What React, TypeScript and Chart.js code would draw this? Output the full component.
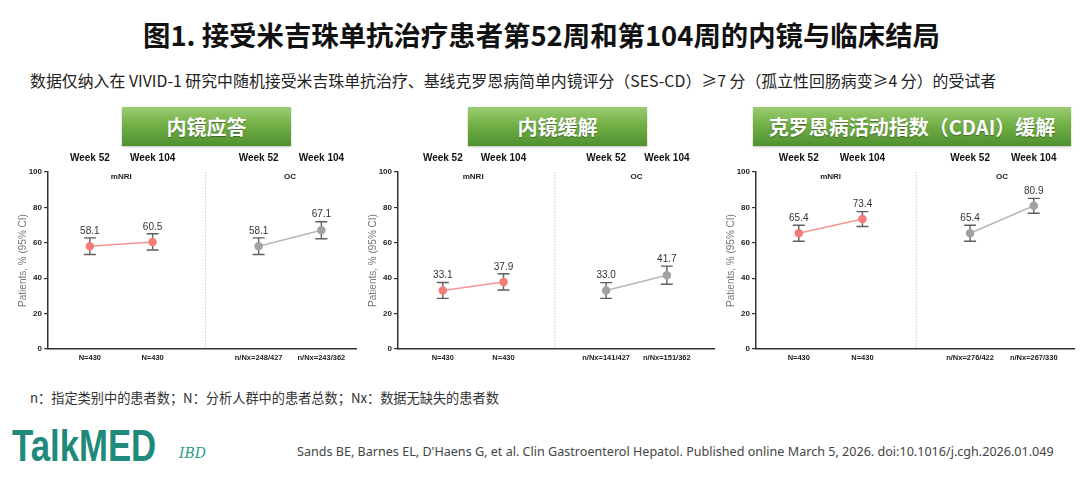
import React, { useEffect, useRef } from "react";
import { Chart, registerables } from "chart.js";

Chart.register(...registerables);

// ---------- data ----------
const groupLabels = ["mNRI", "OC"];
const weekLabels = ["Week 52", "Week 104", "Week 52", "Week 104"];
const xPositions = [1, 2, 3.69, 4.69];
const separatorX = 2.845;
const panelTitles = ["内镜应答", "内镜缓解", "克罗恩病活动指数（CDAI）缓解"];

// Panel 1: endoscopic response
const responseMnri = [58.1, 60.5];
const responseMnriLow = [53.4, 55.9];
const responseMnriHigh = [62.8, 65.1];
const responseOc = [58.1, 67.1];
const responseOcLow = [53.4, 62.3];
const responseOcHigh = [62.8, 71.9];
const responseN = ["N=430", "N=430", "n/Nx=248/427", "n/Nx=243/362"];

// Panel 2: endoscopic remission
const remissionMnri = [33.1, 37.9];
const remissionMnriLow = [28.6, 33.3];
const remissionMnriHigh = [37.6, 42.5];
const remissionOc = [33.0, 41.7];
const remissionOcLow = [28.6, 36.6];
const remissionOcHigh = [37.5, 46.8];
const remissionN = ["N=430", "N=430", "n/Nx=141/427", "n/Nx=151/362"];

// Panel 3: CDAI remission
const cdaiMnri = [65.4, 73.4];
const cdaiMnriLow = [60.9, 69.2];
const cdaiMnriHigh = [69.9, 77.6];
const cdaiOc = [65.4, 80.9];
const cdaiOcLow = [60.9, 76.7];
const cdaiOcHigh = [69.9, 85.1];
const cdaiN = ["N=430", "N=430", "n/Nx=276/422", "n/Nx=267/330"];

const yTicksMax = 100;
const yTickStep = 20;
const yAxisTitle = "Patients, % (95% CI)";

const titleText = "图1. 接受米吉珠单抗治疗患者第52周和第104周的内镜与临床结局";
const subtitleText =
  "数据仅纳入在 VIVID-1 研究中随机接受米吉珠单抗治疗、基线克罗恩病简单内镜评分（SES-CD）≥7 分（孤立性回肠病变≥4 分）的受试者";
const footnoteText = "n：指定类别中的患者数；N：分析人群中的患者总数；Nx：数据无缺失的患者数";
const citationText =
  "Sands BE, Barnes EL, D'Haens G, et al. Clin Gastroenterol Hepatol. Published online March 5, 2026. doi:10.1016/j.cgh.2026.01.049";

// ---------- layout ----------
const FONT = "'Liberation Sans', Arial, sans-serif";
const CJK = "'Noto Sans CJK SC', 'Noto Sans', sans-serif";
const AXIS_W = 48;
const CANVAS_TOP = 145;
const CANVAS_H = 235;
const TOP_AXIS_H = 27;
const BOTTOM_AXIS_H = 31;

const panelGeom = [
  { axisX: 48, plotW: 310, xMin: 0.333, xMax: 5.25, header: { left: 122, width: 169 } },
  { axisX: 398, plotW: 318, xMin: 0.262, xMax: 5.475, header: { left: 468, width: 179 } },
  { axisX: 756, plotW: 320, xMin: 0.328, xMax: 5.33, header: { left: 753, width: 318 } },
];

const overlayPlugin = {
  id: "overlay",
  beforeDatasetsDraw(chart: any) {
    const ctx = chart.ctx;
    const x = chart.scales.x;
    const y = chart.scales.y;
    const area = chart.chartArea;
    ctx.save();
    // dotted separator
    const sx = x.getPixelForValue(separatorX);
    ctx.strokeStyle = "#c9c9c9";
    ctx.lineWidth = 1;
    ctx.setLineDash([1.5, 1.5]);
    ctx.beginPath();
    ctx.moveTo(sx, area.top);
    ctx.lineTo(sx, area.bottom);
    ctx.stroke();
    ctx.setLineDash([]);
    // group labels
    ctx.font = `bold 8px ${FONT}`;
    ctx.fillStyle = "#222";
    ctx.textAlign = "center";
    ctx.textBaseline = "middle";
    const gy = y.getPixelForValue(yTicksMax) + 5;
    ctx.fillText(groupLabels[0], x.getPixelForValue((xPositions[0] + xPositions[1]) / 2), gy);
    ctx.fillText(groupLabels[1], x.getPixelForValue((xPositions[2] + xPositions[3]) / 2), gy);
    // error bars
    ctx.strokeStyle = "#5f5f5f";
    ctx.lineWidth = 1.4;
    chart.data.datasets.forEach((ds: any) => {
      ds.data.forEach((pt: any, i: number) => {
        const px = x.getPixelForValue(pt.x);
        const lo = y.getPixelForValue(ds.ciLow[i]);
        const hi = y.getPixelForValue(ds.ciHigh[i]);
        ctx.beginPath();
        ctx.moveTo(px, lo);
        ctx.lineTo(px, hi);
        ctx.moveTo(px - 6, lo);
        ctx.lineTo(px + 6, lo);
        ctx.moveTo(px - 6, hi);
        ctx.lineTo(px + 6, hi);
        ctx.stroke();
      });
    });
    ctx.restore();
  },
  afterDatasetsDraw(chart: any) {
    const ctx = chart.ctx;
    const x = chart.scales.x;
    const y = chart.scales.y;
    ctx.save();
    ctx.font = `10px ${FONT}`;
    ctx.fillStyle = "#333";
    ctx.textAlign = "center";
    ctx.textBaseline = "middle";
    chart.data.datasets.forEach((ds: any) => {
      ds.data.forEach((pt: any, i: number) => {
        const px = x.getPixelForValue(pt.x);
        const hi = y.getPixelForValue(ds.ciHigh[i]);
        ctx.fillText(pt.y.toFixed(1), px, hi - 7);
      });
    });
    ctx.restore();
  },
};

type PanelProps = {
  index: number;
  mnri: number[];
  mnriLow: number[];
  mnriHigh: number[];
  oc: number[];
  ocLow: number[];
  ocHigh: number[];
  nLabels: string[];
};

function Panel(props: PanelProps) {
  const ref = useRef<HTMLCanvasElement | null>(null);
  const g = panelGeom[props.index];
  const canvasW = AXIS_W + g.plotW + 4;

  useEffect(() => {
    if (!ref.current) return;
    const tickSetter = (s: any) => {
      s.ticks = xPositions.map((v) => ({ value: v }));
    };
    const chart = new Chart(ref.current, {
      type: "line",
      data: {
        datasets: [
          {
            label: "mNRI",
            data: props.mnri.map((v, i) => ({ x: xPositions[i], y: v })),
            borderColor: "#f59490",
            backgroundColor: "#f67c78",
            pointBackgroundColor: "#f67c78",
            pointBorderColor: "#f67c78",
            pointRadius: 3.5,
            borderWidth: 1.5,
            ciLow: props.mnriLow,
            ciHigh: props.mnriHigh,
          } as any,
          {
            label: "OC",
            data: props.oc.map((v, i) => ({ x: xPositions[i + 2], y: v })),
            borderColor: "#b8b8b8",
            backgroundColor: "#a2a2a2",
            pointBackgroundColor: "#a2a2a2",
            pointBorderColor: "#a2a2a2",
            pointRadius: 3.5,
            borderWidth: 1.5,
            ciLow: props.ocLow,
            ciHigh: props.ocHigh,
          } as any,
        ],
      },
      options: {
        animation: false,
        responsive: false,
        devicePixelRatio: 1,
        layout: { padding: { left: 0, right: 4, top: 0, bottom: 0 } },
        plugins: { legend: { display: false }, tooltip: { enabled: false } },
        scales: {
          x: {
            type: "linear",
            position: "bottom",
            min: g.xMin,
            max: g.xMax,
            afterBuildTicks: tickSetter,
            afterFit: (s: any) => {
              s.height = BOTTOM_AXIS_H;
            },
            ticks: {
              autoSkip: false,
              maxRotation: 0,
              padding: 4.5,
              color: "#222",
              font: { family: FONT, size: 7.5, weight: "bold" },
              callback: (_v: any, i: number) => props.nLabels[i],
            },
            grid: { display: false, drawTicks: false },
            border: { display: true, color: "#333", width: 1.5 },
          },
          xTop: {
            type: "linear",
            position: "top",
            min: g.xMin,
            max: g.xMax,
            afterBuildTicks: tickSetter,
            afterFit: (s: any) => {
              s.height = TOP_AXIS_H;
            },
            ticks: {
              autoSkip: false,
              maxRotation: 0,
              padding: 8,
              color: "#111",
              font: { family: FONT, size: 10, weight: "bold" },
              callback: (_v: any, i: number) => weekLabels[i],
            },
            grid: { display: false, drawTicks: false },
            border: { display: false },
          },
          y: {
            type: "linear",
            min: 0,
            max: yTicksMax,
            afterFit: (s: any) => {
              s.width = AXIS_W;
            },
            ticks: {
              stepSize: yTickStep,
              padding: 2,
              color: "#222",
              font: { family: FONT, size: 8, weight: "bold" },
            },
            grid: { drawOnChartArea: false, drawTicks: true, tickLength: 4, color: "#333", lineWidth: 1.2 },
            border: { display: true, color: "#333", width: 1.5 },
            title: {
              display: true,
              text: yAxisTitle,
              color: "#777",
              font: { family: FONT, size: 10 },
              padding: { top: 17, bottom: 0 },
            },
          },
        },
      } as any,
      plugins: [overlayPlugin],
    });
    return () => chart.destroy();
  }, []);

  return (
    <>
      <div
        style={{
          position: "absolute",
          left: g.header.left,
          top: 107,
          width: g.header.width,
          height: 39,
          background: "linear-gradient(180deg, #9ccd72 0%, #73b046 45%, #4f9030 100%)",
          boxShadow: "0 1px 2px rgba(0,0,0,0.25)",
          color: "#fff",
          fontFamily: CJK,
          fontWeight: 700,
          fontSize: 20,
          lineHeight: "39px",
          textAlign: "center",
          textShadow: "0 1px 1px rgba(0,0,0,0.35)",
          whiteSpace: "nowrap",
        }}
      >
        {panelTitles[props.index]}
      </div>
      <canvas
        ref={ref}
        width={canvasW}
        height={CANVAS_H}
        style={{
          position: "absolute",
          left: g.axisX - AXIS_W,
          top: CANVAS_TOP,
          width: canvasW,
          height: CANVAS_H,
        }}
      />
    </>
  );
}

export default function App() {
  return (
    <div
      style={{
        position: "fixed",
        left: 0,
        top: 0,
        width: 1080,
        height: 477,
        background: "#fff",
        overflow: "hidden",
      }}
    >
      <div
        style={{
          position: "absolute",
          left: 0,
          width: 1083,
          top: 15,
          textAlign: "center",
          fontFamily: CJK,
          fontWeight: 700,
          fontSize: 27.4,
          lineHeight: "38px",
          color: "#111",
          whiteSpace: "nowrap",
        }}
      >
        {titleText}
      </div>
      <div
        style={{
          position: "absolute",
          left: 30,
          top: 70,
          fontFamily: CJK,
          fontSize: 15.9,
          lineHeight: "22px",
          color: "#222",
          whiteSpace: "nowrap",
        }}
      >
        {subtitleText}
      </div>

      <Panel
        index={0}
        mnri={responseMnri}
        mnriLow={responseMnriLow}
        mnriHigh={responseMnriHigh}
        oc={responseOc}
        ocLow={responseOcLow}
        ocHigh={responseOcHigh}
        nLabels={responseN}
      />
      <Panel
        index={1}
        mnri={remissionMnri}
        mnriLow={remissionMnriLow}
        mnriHigh={remissionMnriHigh}
        oc={remissionOc}
        ocLow={remissionOcLow}
        ocHigh={remissionOcHigh}
        nLabels={remissionN}
      />
      <Panel
        index={2}
        mnri={cdaiMnri}
        mnriLow={cdaiMnriLow}
        mnriHigh={cdaiMnriHigh}
        oc={cdaiOc}
        ocLow={cdaiOcLow}
        ocHigh={cdaiOcHigh}
        nLabels={cdaiN}
      />

      <div
        style={{
          position: "absolute",
          left: 30,
          top: 389,
          fontFamily: CJK,
          fontSize: 13.2,
          lineHeight: "18px",
          color: "#333",
          whiteSpace: "nowrap",
        }}
      >
        {footnoteText}
      </div>
      <div
        style={{
          position: "absolute",
          left: 12,
          top: 421,
          fontFamily: FONT,
          fontWeight: 700,
          fontSize: 44,
          lineHeight: "50px",
          color: "#1f8a7b",
          transform: "scaleX(0.79)",
          transformOrigin: "left center",
          whiteSpace: "nowrap",
        }}
      >
        TalkMED
      </div>
      <div
        style={{
          position: "absolute",
          left: 179,
          top: 444,
          fontFamily: "'DejaVu Serif', serif",
          fontStyle: "italic",
          fontSize: 14,
          lineHeight: "18px",
          color: "#2a9a8a",
        }}
      >
        IBD
      </div>
      <div
        style={{
          position: "absolute",
          left: 297,
          top: 443,
          fontFamily: "'Noto Sans', sans-serif",
          fontSize: 12.58,
          lineHeight: "18px",
          color: "#444",
          whiteSpace: "nowrap",
        }}
      >
        {citationText}
      </div>
    </div>
  );
}
